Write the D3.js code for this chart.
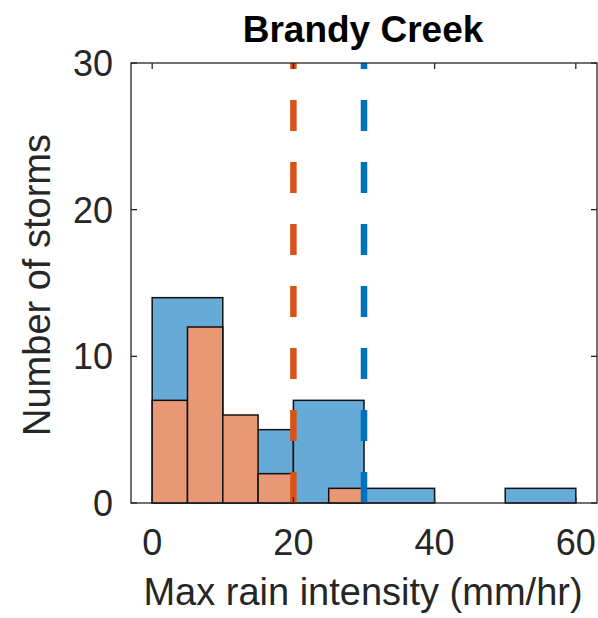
<!DOCTYPE html>
<html>
<head>
<meta charset="utf-8">
<script src="https://cdn.jsdelivr.net/npm/d3@7"></script>
<style>
  html, body { margin: 0; padding: 0; background: #fff; }
  svg { display: block; font-family: "Liberation Sans", Arial, Helvetica, sans-serif; }
</style>
</head>
<body>
<svg id="chart" width="598" height="618"></svg>
<script>
// Histogram of storm peak rain intensity, Brandy Creek
const blueEdges = [0, 10, 20, 30, 40, 50, 60];
const blueCounts = [14, 5, 7, 1, 0, 1];
const orangeEdges = [0, 5, 10, 15, 20, 25, 30];
const orangeCounts = [7, 12, 6, 2, 0, 1];
const thresholds = [
  { value: 20, series: "orange" },
  { value: 30, series: "blue" }
];
const xTicks = [0, 20, 40, 60];
const yTicks = [0, 10, 20, 30];
const xDomain = [-3, 63];
const yDomain = [0, 30];
const titleText = "Brandy Creek";
const xLabel = "Max rain intensity (mm/hr)";
const yLabel = "Number of storms";

const colors = {
  blueFill: "rgb(102,170,215)",
  orangeFill: "rgb(232,152,117)",
  blueLine: "rgb(0,114,189)",
  orangeLine: "rgb(217,83,25)",
  axis: "rgb(38,38,38)"
};

const box = { left: 131, right: 597, top: 63, bottom: 503 };
const svg = d3.select("#chart");

const x = d3.scaleLinear().domain(xDomain).range([box.left, box.right]);
const y = d3.scaleLinear().domain(yDomain).range([box.bottom, box.top]);

function binsFrom(edges, counts) {
  return counts.map((c, i) => ({ x0: edges[i], x1: edges[i + 1], count: c }));
}

const plot = svg.append("g");
plot.append("clipPath").attr("id", "clip")
  .append("rect")
  .attr("x", box.left).attr("y", box.top)
  .attr("width", box.right - box.left).attr("height", box.bottom - box.top);

function drawBars(bins, fill) {
  plot.append("g")
    .selectAll("rect")
    .data(bins.filter(d => d.count > 0))
    .join("rect")
    .attr("x", d => x(d.x0))
    .attr("y", d => y(d.count))
    .attr("width", d => x(d.x1) - x(d.x0))
    .attr("height", d => y(0) - y(d.count))
    .attr("fill", fill)
    .attr("stroke", "#111")
    .attr("stroke-width", 1.5);
}
drawBars(binsFrom(blueEdges, blueCounts), colors.blueFill);
drawBars(binsFrom(orangeEdges, orangeCounts), colors.orangeFill);

// dashed threshold lines, drawn from bottom to top
plot.append("g").attr("clip-path", "url(#clip)")
  .selectAll("line")
  .data(thresholds)
  .join("line")
  .attr("x1", d => x(d.value)).attr("x2", d => x(d.value))
  .attr("y1", y(yDomain[0])).attr("y2", y(yDomain[1]))
  .attr("stroke", d => d.series === "blue" ? colors.blueLine : colors.orangeLine)
  .attr("stroke-width", 6.5)
  .attr("stroke-dasharray", "31,31");

// axes box
const axisG = svg.append("g").attr("fill", "none").attr("stroke", colors.axis).attr("stroke-width", 1.3);
axisG.append("rect")
  .attr("x", box.left).attr("y", box.top)
  .attr("width", box.right - box.left).attr("height", box.bottom - box.top);

// ticks point inward on all four sides
const tl = 6;
xTicks.forEach(t => {
  axisG.append("line").attr("x1", x(t)).attr("x2", x(t)).attr("y1", box.bottom).attr("y2", box.bottom - tl);
  axisG.append("line").attr("x1", x(t)).attr("x2", x(t)).attr("y1", box.top).attr("y2", box.top + tl);
});
yTicks.forEach(t => {
  axisG.append("line").attr("x1", box.left).attr("x2", box.left + tl).attr("y1", y(t)).attr("y2", y(t));
  axisG.append("line").attr("x1", box.right).attr("x2", box.right - tl).attr("y1", y(t)).attr("y2", y(t));
});

const labelColor = "#262626";
svg.append("g").selectAll("text")
  .data(xTicks).join("text")
  .attr("x", d => x(d)).attr("y", 555)
  .attr("text-anchor", "middle")
  .attr("font-size", 36)
  .attr("fill", labelColor)
  .text(d => d);

svg.append("g").selectAll("text")
  .data(yTicks).join("text")
  .attr("x", 113).attr("y", d => y(d) + 13)
  .attr("text-anchor", "end")
  .attr("font-size", 36)
  .attr("fill", labelColor)
  .text(d => d);

svg.append("text")
  .attr("x", 363).attr("y", 605)
  .attr("text-anchor", "middle")
  .attr("font-size", 38)
  .attr("fill", labelColor)
  .text(xLabel);

svg.append("text")
  .attr("transform", `translate(50,${(box.top + box.bottom) / 2 + 2}) rotate(-90)`)
  .attr("text-anchor", "middle")
  .attr("font-size", 38)
  .attr("fill", labelColor)
  .text(yLabel);

svg.append("text")
  .attr("x", 363).attr("y", 42)
  .attr("text-anchor", "middle")
  .attr("font-size", 37)
  .attr("font-weight", "bold")
  .attr("fill", "#000")
  .text(titleText);
</script>
</body>
</html>
